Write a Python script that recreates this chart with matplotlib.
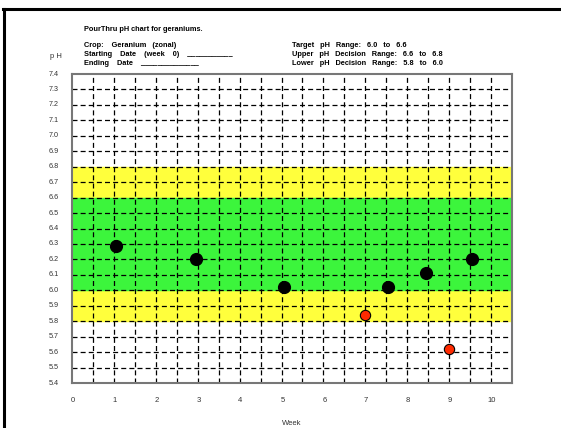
import matplotlib.pyplot as plt
import numpy as np

plt.rcParams['font.family'] = ['Liberation Sans', 'DejaVu Sans']

weeks_ok = [1.05, 2.95, 5.05, 7.55, 8.45, 9.55]
ph_ok = [6.29, 6.20, 6.02, 6.02, 6.11, 6.20]
weeks_low = [7.0, 9.0]
ph_low = [5.84, 5.62]

target = (6.0, 6.6)
upper = (6.6, 6.8)
lower = (5.8, 6.0)

x_ticks = list(range(0, 11))
y_ticks = [round(5.4 + 0.1 * i, 1) for i in range(21)]

fig = plt.figure(figsize=(5.61, 4.28), dpi=100)
ax = fig.add_axes([0.1283, 0.1051, 0.7844, 0.722])

ax.axhspan(*upper, color='#ffff3c', zorder=0)
ax.axhspan(*lower, color='#ffff3c', zorder=0)
ax.axhspan(*target, color='#3cf53c', zorder=0)

for y in y_ticks[1:-1]:
    ax.axhline(y, color='black', lw=0.9, ls=(0, (4, 2.5)), zorder=1)
for xv in np.arange(0.5, 10.5, 0.5):
    ax.axvline(xv, color='black', lw=0.9, ls=(0, (4, 2.5)), zorder=1)

ax.scatter(weeks_ok, ph_ok, s=72, color='black', zorder=3)
ax.scatter(weeks_low, ph_low, s=55, color='#ff2a00', edgecolor='black', linewidth=0.8, zorder=3)

ax.set_xlim(0, 10.5)
ax.set_ylim(5.4, 7.4)
ax.set_xticks([])
ax.set_yticks([])
for s in ax.spines.values():
    s.set_color('#777777')
    s.set_linewidth(1.5)

for t in x_ticks:
    ax.text(t + 0.02, 5.4 - 0.11, str(t), ha='center', va='center', fontsize=5.5, color='#333333')
for y in y_ticks:
    ax.text(-0.55, y, '%.1f' % y, ha='left', va='center', fontsize=5.2, color='#333333')
ax.text(5.25, 5.4 - 0.26, 'Week', ha='center', va='center', fontsize=5.5, color='#333333')

fig.text(0.089, 0.868, 'p H', fontsize=5.5, ha='left', va='center', color='#333333')

bold = dict(fontsize=5.3, fontweight='bold', ha='left', va='center')
fig.text(0.150, 0.932, 'PourThru pH chart for geraniums.', **bold)
fig.text(0.150, 0.893, 'Crop:    Geranium   (zonal)', **bold)
fig.text(0.150, 0.872, 'Starting    Date    (week    0)    ___________', **bold)
fig.text(0.150, 0.851, 'Ending    Date    ______________', **bold)
fig.text(0.521, 0.893, 'Target   pH   Range:   6.0   to   6.6', **bold)
fig.text(0.521, 0.872, 'Upper   pH   Decision   Range:   6.6   to   6.8', **bold)
fig.text(0.521, 0.851, 'Lower   pH   Decision   Range:   5.8   to   6.0', **bold)

fig.add_artist(plt.Line2D([0.0075, 0.0075], [0, 0.98], color='black', lw=2.2, transform=fig.transFigure))
fig.add_artist(plt.Line2D([0.0055, 1], [0.98, 0.98], color='black', lw=2.2, transform=fig.transFigure))

fig.savefig('out.png', dpi=100)
